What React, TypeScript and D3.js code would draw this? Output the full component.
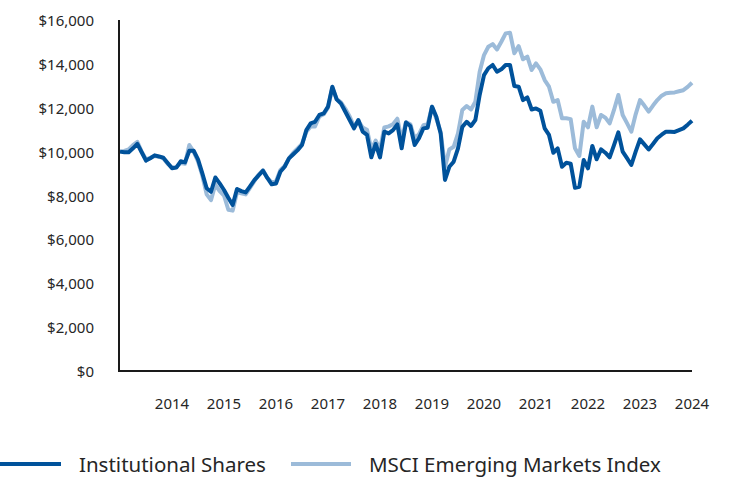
import React from "react";
import * as d3 from "d3";

const startYear = 2013;
const yearTicks = [2014, 2015, 2016, 2017, 2018, 2019, 2020, 2021, 2022, 2023, 2024];
const yTicks = [0, 2000, 4000, 6000, 8000, 10000, 12000, 14000, 16000];
const seriesNames = ["Institutional Shares", "MSCI Emerging Markets Index"];

const institutional = [
  10000, 9970, 9970, 10150, 10350, 9970, 9590, 9700, 9830, 9780, 9720, 9480,
  9240, 9270, 9560, 9510, 10040, 10040, 9650, 9010, 8330, 8170, 8820, 8550,
  8250, 7900, 7570, 8300, 8200, 8140, 8420, 8700, 8920, 9130, 8800, 8510,
  8550, 9080, 9310, 9690, 9880, 10070, 10300, 10980, 11290, 11360, 11670, 11740,
  12050, 12960, 12380, 12190, 11820, 11440, 11060, 11440, 10910, 10760, 9740, 10350,
  9740, 10910, 10830, 10980, 11240, 10150, 11330, 11170, 10300, 10610, 11060, 11090,
  12050, 11590, 10830, 8710, 9310, 9540, 10150, 11130, 11360, 11170, 11440, 12580,
  13490, 13800, 13950, 13640, 13750, 13950, 13950, 12990, 12960, 12350, 12470, 11920,
  11970, 11860, 11060, 10760, 9950, 10150, 9310, 9490, 9450, 8350, 8400, 9620,
  9240, 10260, 9650, 10100, 9950, 9740, 10300, 10880, 10000, 9700, 9390, 10000,
  10560, 10330, 10100, 10350, 10610, 10770, 10910, 10910, 10900, 10980, 11060, 11230,
  11410,
];

const msciEM = [
  10000, 10030, 10100, 10300, 10450, 10000, 9650, 9720, 9800, 9760, 9700, 9450,
  9280, 9300, 9480, 9450, 10300, 10000, 9550, 8900, 8050, 7790, 8500, 8200,
  8000, 7350, 7310, 8150, 8100, 8050, 8350, 8650, 8950, 9150, 8800, 8600,
  8650, 9150, 9350, 9700, 9950, 10150, 10350, 10900, 11150, 11150, 11600, 11700,
  12000, 12900, 12400, 12250, 11950, 11600, 11150, 11400, 11100, 11000, 10100, 10500,
  10100, 11100, 11150, 11250, 11500, 10550, 11350, 11250, 10600, 10800, 11200, 11250,
  12050, 11500, 10900, 9300, 10100, 10220, 10830, 11900, 12080, 11920, 12270, 13640,
  14400, 14780, 14900, 14660, 15010, 15390, 15420, 14480, 14810, 14210, 14330, 13720,
  14020, 13750, 13260, 12960, 12270, 12350, 11520, 11520, 11480, 10150, 9800, 11360,
  11110, 12050, 11110, 11670, 11550, 11290, 11900, 12580, 11670, 11300, 10910, 11700,
  12350, 12100, 11820, 12100, 12350, 12550, 12660, 12680, 12700, 12750, 12800, 12950,
  13140,
];

const W = 732;
const H = 480;
const darkBlue = "#00529b";
const lightBlue = "#9cbbd9";
const textColor = "#262626";
const font = "'Noto Sans', 'Open Sans', sans-serif";

export default function App() {
  const x = d3.scaleLinear().domain([startYear, 2024]).range([120, 692]);
  const y = d3.scaleLinear().domain([0, 16000]).range([371, 20]);
  const line = d3
    .line<number>()
    .x((_, i) => x(startYear + i / 12))
    .y((d) => y(d))
    .curve(d3.curveLinear);

  return (
    <svg
      width={W}
      height={H}
      style={{ position: "absolute", left: 0, top: 0, background: "#fff" }}
      fontFamily={font}
    >
      <path d={line(msciEM) || ""} fill="none" stroke={lightBlue} strokeWidth={4} strokeLinejoin="round" />
      <path d={line(institutional) || ""} fill="none" stroke={darkBlue} strokeWidth={4} strokeLinejoin="round" />

      <line x1={119} x2={119} y1={y(16000)} y2={y(0) + 1} stroke="#1a1a1a" strokeWidth={2} />
      <line x1={118} x2={x(2024)} y1={y(0)} y2={y(0)} stroke="#1a1a1a" strokeWidth={2} />

      {yTicks.map((t) => (
        <text
          key={t}
          x={94}
          y={y(t)}
          textAnchor="end"
          dominantBaseline="central"
          fontSize={15}
          fill={textColor}
        >
          {"$" + d3.format(",")(t)}
        </text>
      ))}

      {yearTicks.map((t) => (
        <text
          key={t}
          x={x(t)}
          y={403}
          textAnchor="middle"
          dominantBaseline="central"
          fontSize={15}
          fill={textColor}
        >
          {t}
        </text>
      ))}

      <line x1={0} x2={61} y1={464} y2={464} stroke={darkBlue} strokeWidth={4} />
      <text x={79} y={472} fontSize={20.5} fill={textColor}>
        {seriesNames[0]}
      </text>
      <line x1={291} x2={351} y1={464} y2={464} stroke={lightBlue} strokeWidth={4} />
      <text x={369} y={472} fontSize={20.5} fill={textColor}>
        {seriesNames[1]}
      </text>
    </svg>
  );
}
